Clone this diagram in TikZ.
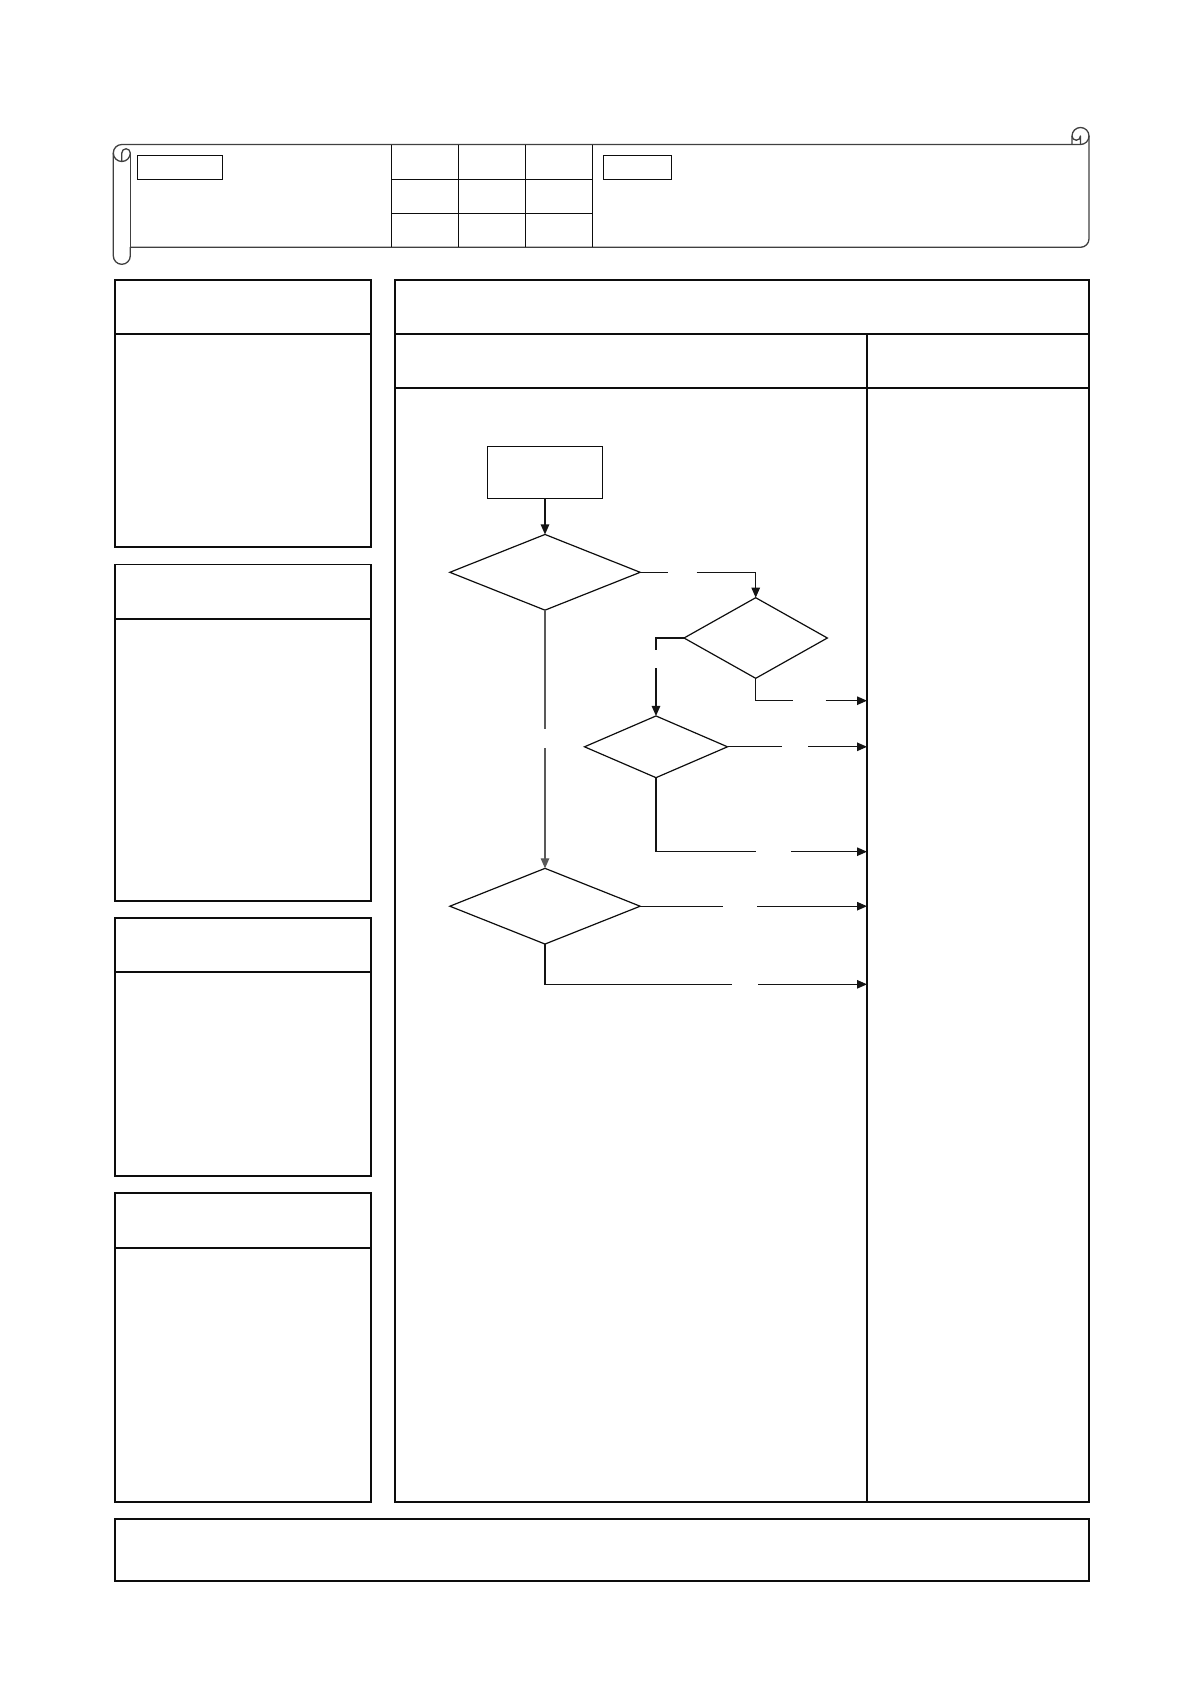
\documentclass[tikz,border=0pt]{standalone}
\usetikzlibrary{shapes.geometric,arrows.meta}
\begin{document}
\begin{tikzpicture}[x=1pt,y=-1pt,
  ink/.style={draw=black!95},
  panel/.style={ink,line width=1.7pt,rectangle,inner sep=0pt,outer sep=0pt,anchor=north west},
  rule/.style={ink,line width=1.7pt},
  scrollline/.style={draw=black!75,line width=1.3pt,line join=round},
  smallbox/.style={ink,line width=1.4pt,rectangle,inner sep=0pt,outer sep=0pt,anchor=north west},
  flowbox/.style={ink,line width=1.3pt,rectangle,inner sep=0pt,outer sep=0pt,minimum width=115.4pt,minimum height=52pt},
  decision/.style={ink,line width=1.2pt,diamond,inner sep=0pt,outer sep=0pt},
  conn/.style={draw=black!92,line width=1.2pt},
  arr/.style={conn,-{Triangle[length=10pt,width=8.5pt]}}
]
\useasboundingbox (0,0) rectangle (1191,1684);

% ---------- scroll header ----------
\draw[scrollline] (113.3,153) arc[start angle=180,delta angle=90,radius=8.5]
  -- (1072,144.5) -- (1072,136) arc[start angle=180,delta angle=180,radius=8.5]
  -- (1089,238.8) arc[start angle=0,delta angle=90,radius=8.5]
  -- (130.3,247.3) -- (130.3,255.8) arc[start angle=0,delta angle=180,radius=8.5]
  -- cycle;
\draw[scrollline] (1072,144.5) -- (1080.5,144.5) arc[start angle=90,delta angle=-90,radius=8.5];
\draw[scrollline] (1080.5,144.5) -- (1080.5,136) arc[start angle=0,delta angle=180,radius=4.25];
\draw[scrollline] (121.8,161.5) -- (121.8,153) arc[start angle=180,delta angle=180,radius=4.25]
  arc[start angle=0,delta angle=180,radius=8.5];
\draw[scrollline] (130.3,153) -- (130.3,247.3);

% header grid
\foreach \gx in {391.3,458.3,525.7,592.5}{\draw[rule,line width=1.4pt] (\gx,144.5) -- (\gx,247.3);}
\foreach \gy in {179.3,213.3}{\draw[rule,line width=1.4pt] (391.3,\gy) -- (592.5,\gy);}
\node[smallbox,minimum width=85.4pt,minimum height=24pt] (hbox1) at (137.3,155.3) {};
\node[smallbox,minimum width=68.4pt,minimum height=24pt] (hbox2) at (603.3,155.3) {};

% ---------- left panels ----------
\node[panel,minimum width=255.4pt,minimum height=266.7pt] (p1) at (115.3,280.3) {};
\draw[rule] (115.3,334.3) -- (370.7,334.3);
\node[panel,minimum width=255.4pt,minimum height=336.7pt] (p2) at (115.3,564.5) {};
\draw[rule] (115.3,618.7) -- (370.7,618.7);
\node[panel,minimum width=255.4pt,minimum height=257.9pt] (p3) at (115.3,918.3) {};
\draw[rule] (115.3,972.3) -- (370.7,972.3);
\node[panel,minimum width=255.4pt,minimum height=308.7pt] (p4) at (115.3,1193.3) {};
\draw[rule] (115.3,1247.7) -- (370.7,1247.7);

% ---------- right panel ----------
\node[panel,minimum width=694.6pt,minimum height=1221.7pt] (main) at (394.7,280.3) {};
\draw[rule] (394.7,334.3) -- (1089.3,334.3);
\draw[rule] (394.7,388.3) -- (1089.3,388.3);
\draw[rule,line width=1.5pt] (867,334.3) -- (867,1502);

% ---------- footer ----------
\node[panel,minimum width=974pt,minimum height=62pt] (foot) at (115.3,1519) {};

% ---------- flowchart ----------
\node[flowbox] (start) at (545,472.3) {};
\node[decision,minimum width=190.3pt,minimum height=75.7pt] (d1) at (545,572.3) {};
\node[decision,minimum width=143.3pt,minimum height=80.6pt] (d2) at (755.7,638) {};
\node[decision,minimum width=143pt,minimum height=61.7pt] (d3) at (656,746.8) {};
\node[decision,minimum width=190.3pt,minimum height=75.7pt] (d4) at (545,906.2) {};

\coordinate (e1) at (867,700.7);
\coordinate (e2) at (867,746.8);
\coordinate (e3) at (867,851.7);
\coordinate (e4) at (867,906.2);
\coordinate (e5) at (867,984.3);

% start -> d1
\draw[arr] (start.south) -- (d1.north);
% d1 -> d2
\coordinate (g1a) at (668.3,572.3);
\coordinate (g1b) at (696.7,572.3);
\draw[conn] (d1.east) -- (g1a);
\draw[arr] (g1b) -| (d2.north);
% d2 -> d3
\coordinate (g2a) at (656,650);
\coordinate (g2b) at (656,668.3);
\draw[conn] (d2.west) -| (g2a);
\draw[arr] (g2b) -- (d3.north);
% d2 -> e1
\coordinate (g3a) at (792.7,700.7);
\coordinate (g3b) at (825.7,700.7);
\draw[conn] (d2.south) |- (g3a);
\draw[arr] (g3b) -- (e1);
% d3 -> e2
\coordinate (g4a) at (781.7,746.8);
\coordinate (g4b) at (808,746.8);
\draw[conn] (d3.east) -- (g4a);
\draw[arr] (g4b) -- (e2);
% d3 -> e3
\coordinate (g5a) at (756,851.7);
\coordinate (g5b) at (791,851.7);
\draw[conn] (d3.south) |- (g5a);
\draw[arr] (g5b) -- (e3);
% d1 -> d4
\coordinate (g6a) at (545,729.3);
\coordinate (g6b) at (545,748.3);
\draw[conn,draw=black!65] (d1.south) -- (g6a);
\draw[arr,draw=black!65] (g6b) -- (d4.north);
% d4 -> e4
\coordinate (g7a) at (722.7,906.2);
\coordinate (g7b) at (757,906.2);
\draw[conn] (d4.east) -- (g7a);
\draw[arr] (g7b) -- (e4);
% d4 -> e5
\coordinate (g8a) at (731.7,984.3);
\coordinate (g8b) at (758,984.3);
\draw[conn] (d4.south) |- (g8a);
\draw[arr] (g8b) -- (e5);
\end{tikzpicture}
\end{document}
